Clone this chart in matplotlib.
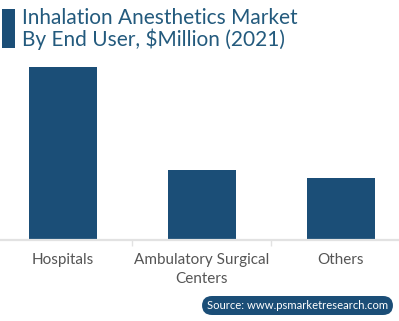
import matplotlib.pyplot as plt
from matplotlib.patches import FancyBboxPatch, Rectangle

# End-user segments, $Million (2021)
categories = ['Hospitals', 'Ambulatory Surgical\nCenters', 'Others']
values = [865, 350, 310]

BAR_COLOR = '#1b4e77'
TITLE_COLOR = '#235a7d'
LABEL_COLOR = '#555555'
AXIS_COLOR = '#e2e2e2'

plt.rcParams['font.family'] = ['Lato', 'DejaVu Sans']

W, H = 399, 321
fig = plt.figure(figsize=(W / 100, H / 100), dpi=100)

# plot area: bottom at y=240px, top at y=60px, full width
ax = fig.add_axes([0, (H - 240) / H, 1, 180 / H])
x = range(len(categories))
ax.bar(x, values, width=0.49, color=BAR_COLOR, zorder=2)
ax.set_xlim(-0.453, -0.453 + W / 139)
ax.set_ylim(0, 900)

for s in ['top', 'right', 'left']:
    ax.spines[s].set_visible(False)
ax.spines['bottom'].set_color(AXIS_COLOR)
ax.spines['bottom'].set_linewidth(1.6)
ax.set_yticks([])

# ticks sit between categories, labels under bar centres
ax.set_xticks([0.5, 1.5])
ax.set_xticklabels([])
ax.tick_params(axis='x', length=4, width=1, color=AXIS_COLOR)
for i, lab in enumerate(categories):
    ax.text(i, -0.07, lab, transform=ax.get_xaxis_transform(), ha='center', va='top',
            fontsize=11, color=LABEL_COLOR, linespacing=1.45)

# title with marker block
fig.patches.append(Rectangle((2 / W, 1 - 48 / H), 13 / W, 39 / H, transform=fig.transFigure,
                             facecolor=BAR_COLOR, edgecolor='none'))
fig.text(22 / W, 1 - 8 / H, 'Inhalation Anesthetics Market\nBy End User, $Million (2021)',
         ha='left', va='top', fontsize=15, color=TITLE_COLOR, linespacing=1.05)

# source badge
fig.patches.append(FancyBboxPatch((202 / W, 1 - 315 / H), 191 / W, 19 / H,
                                  boxstyle='round,pad=0,rounding_size=0.025',
                                  transform=fig.transFigure, facecolor=BAR_COLOR,
                                  edgecolor='none', mutation_aspect=W / H))
fig.text(297.5 / W, 1 - 305.5 / H, 'Source: www.psmarketresearch.com', ha='center', va='center',
         fontsize=8.1, color='white')

fig.savefig('out.png', dpi=100)
